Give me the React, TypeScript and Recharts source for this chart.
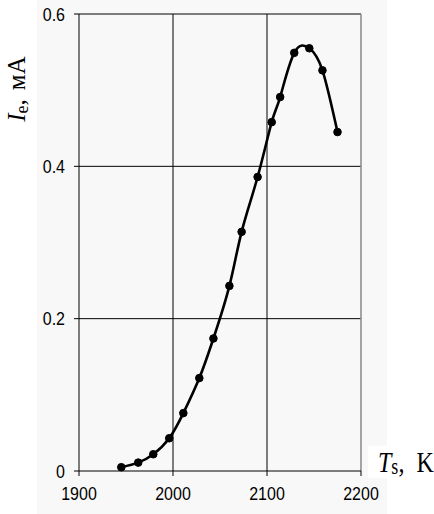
import React from "react";
import {
  LineChart,
  Line,
  XAxis,
  YAxis,
  CartesianGrid,
  ReferenceLine,
} from "recharts";

const temperatures = [
  1945, 1963, 1979, 1996, 2011, 2028, 2043, 2060, 2073, 2090, 2105, 2114,
  2129, 2145, 2159, 2175,
];
const currents = [
  0.005, 0.011, 0.022, 0.043, 0.076, 0.122, 0.174, 0.243, 0.314, 0.386, 0.458,
  0.491, 0.549, 0.555, 0.526, 0.445,
];
const xTicks = [1900, 2000, 2100, 2200];
const yTicks = [0, 0.2, 0.4, 0.6];

const data = temperatures.map((t, i) => ({ t, i: currents[i] }));

const tickFont = "'Liberation Sans', Arial, sans-serif";

// tick text is a little taller than wide in the source, so stretch it
const XTick = (props: any) => {
  const { x, y, payload } = props;
  return (
    <text
      transform={`translate(${x},${y + 17}) scale(1,1.15)`}
      textAnchor="middle"
      dy="0.36em"
      fill="#000"
      fontFamily={tickFont}
      fontSize={16}
    >
      {payload.value}
    </text>
  );
};

const YTick = (props: any) => {
  const { x, y, payload } = props;
  return (
    <text
      transform={`translate(${x},${y}) scale(1,1.15)`}
      textAnchor="end"
      dy="0.36em"
      fill="#000"
      fontFamily={tickFont}
      fontSize={16}
    >
      {String(payload.value)}
    </text>
  );
};

export default function App() {
  return (
    <div
      style={{
        position: "absolute",
        left: 0,
        top: 0,
        width: 434,
        height: 514,
        background: "#fff",
        fontFamily: "'Liberation Serif', 'Times New Roman', serif",
      }}
    >
      <div
        style={{
          position: "absolute",
          left: 37,
          top: 0,
          width: 350,
          height: 514,
          background: "#f8f8f8",
        }}
      />
      <div style={{ position: "absolute", left: 0, top: 0 }}>
        <LineChart
          width={434}
          height={514}
          data={data}
          margin={{ top: 14, right: 73, bottom: 13, left: 39 }}
        >
          <CartesianGrid
            stroke="#000"
            strokeWidth={1}
            horizontalValues={[0.2, 0.4, 0.6]}
            verticalValues={[2000, 2100]}
          />
          <XAxis
            dataKey="t"
            type="number"
            domain={[1900, 2200]}
            ticks={xTicks}
            height={30}
            tick={<XTick />}
            tickSize={5}
            tickMargin={0}
            axisLine={{ stroke: "#000" }}
            tickLine={{ stroke: "#000" }}
          />
          <YAxis
            type="number"
            domain={[0, 0.6]}
            ticks={yTicks}
            width={40}
            tick={<YTick />}
            tickSize={5}
            tickMargin={9}
            axisLine={{ stroke: "#000" }}
            tickLine={{ stroke: "#000" }}
          />
          <ReferenceLine x={2200} stroke="#888" strokeWidth={1.5} />
          <Line
            dataKey="i"
            type="natural"
            stroke="#000"
            strokeWidth={2.6}
            dot={{ r: 3.8, fill: "#000", stroke: "#000", strokeWidth: 1 }}
            isAnimationActive={false}
          />
        </LineChart>
      </div>
      <div
        style={{
          position: "absolute",
          left: 368,
          top: 446,
          width: 66,
          height: 32,
          background: "#fff",
        }}
      />
      <div
        style={{
          position: "absolute",
          left: 378,
          top: 444,
          fontSize: 24,
          whiteSpace: "nowrap",
          lineHeight: "28px",
          transform: "scale(1,1.25)",
          transformOrigin: "0 0",
        }}
      >
        <i>T</i>
        <span style={{ fontSize: 18, position: "relative", top: 2 }}>s</span>,
        <span style={{ marginLeft: 12 }}>K</span>
      </div>
      <div
        style={{
          position: "absolute",
          left: 18,
          top: 89,
          fontSize: 25,
          whiteSpace: "nowrap",
          lineHeight: "28px",
          transform: "translate(-50%, -50%) rotate(-90deg)",
        }}
      >
        <i>I</i>
        <span style={{ fontSize: 18, position: "relative", top: 3 }}>e</span>,
        <span style={{ marginLeft: 9 }}>мА</span>
      </div>
    </div>
  );
}
